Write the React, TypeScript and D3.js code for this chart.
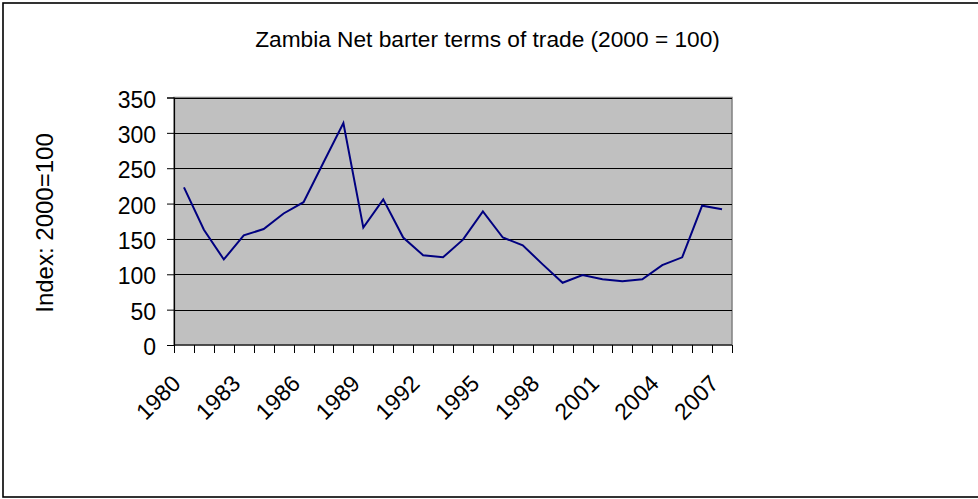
import React, { useEffect, useRef } from 'react';
import * as d3 from 'd3';

// Zambia net barter terms of trade, index 2000 = 100
const years = [
  1980, 1981, 1982, 1983, 1984, 1985, 1986, 1987, 1988, 1989,
  1990, 1991, 1992, 1993, 1994, 1995, 1996, 1997, 1998, 1999,
  2000, 2001, 2002, 2003, 2004, 2005, 2006, 2007,
];
const tot = [
  223, 163, 121, 155, 164, 186, 202, 258, 314, 166,
  206, 152, 127, 124, 149, 189, 152, 141, 114, 88,
  99, 93, 90, 93, 113, 124, 197, 192,
];
const yTicks = [0, 50, 100, 150, 200, 250, 300, 350];
const labelYears = [1980, 1983, 1986, 1989, 1992, 1995, 1998, 2001, 2004, 2007];

const W = 978;
const H = 499;
const FONT = '"Liberation Sans", Arial, sans-serif';

export default function App() {
  const ref = useRef<SVGSVGElement>(null);

  useEffect(() => {
    const svg = d3.select(ref.current);
    svg.selectAll('*').remove();

    const plot = { left: 174, right: 732, top: 97.5, bottom: 345 };

    const x = d3.scaleBand<number>()
      .domain(years)
      .range([plot.left, plot.right])
      .padding(0);
    const y = d3.scaleLinear()
      .domain([0, 350])
      .range([plot.bottom, plot.top]);

    // outer frame
    svg.append('rect')
      .attr('x', 3).attr('y', 3)
      .attr('width', 985).attr('height', 494)
      .attr('fill', '#fff')
      .attr('stroke', '#000')
      .attr('stroke-width', 1.6);

    // title
    svg.append('text')
      .attr('x', 487.5).attr('y', 46.5)
      .attr('text-anchor', 'middle')
      .style('font-family', FONT)
      .style('font-size', '22.7px')
      .text('Zambia Net barter terms of trade (2000 = 100)');

    // plot background
    svg.append('rect')
      .attr('x', plot.left).attr('y', plot.top)
      .attr('width', plot.right - plot.left)
      .attr('height', plot.bottom - plot.top)
      .attr('fill', '#c0c0c0')
      .attr('stroke', '#808080')
      .attr('stroke-width', 1.5);

    // gridlines
    svg.append('g')
      .selectAll('line')
      .data(yTicks.filter(d => d > 0))
      .enter().append('line')
      .attr('x1', plot.left).attr('x2', plot.right)
      .attr('y1', d => Math.round(y(d)) + 0.5)
      .attr('y2', d => Math.round(y(d)) + 0.5)
      .attr('stroke', '#000')
      .attr('stroke-width', 1);

    // y axis
    const yAxis = svg.append('g')
      .attr('transform', `translate(${plot.left},0)`)
      .call(d3.axisLeft(y).tickValues(yTicks).tickSize(7).tickPadding(0).tickFormat(d3.format('d')));
    yAxis.select('.domain').attr('stroke', '#000').attr('stroke-width', 1.2);
    yAxis.selectAll('.tick line').attr('stroke', '#000');
    yAxis.selectAll('.tick text').remove();
    yAxis.selectAll('.tick')
      .append('text')
      .attr('x', -18)
      .attr('y', 9.5)
      .attr('text-anchor', 'end')
      .attr('fill', '#000')
      .style('font-family', FONT)
      .style('font-size', '23px')
      .text(d => String(d));

    // x axis line and ticks at category boundaries
    svg.append('line')
      .attr('x1', plot.left).attr('x2', plot.right)
      .attr('y1', plot.bottom).attr('y2', plot.bottom)
      .attr('stroke', '#000').attr('stroke-width', 1.2);
    const bounds = years.map(d => x(d) as number).concat([plot.right]);
    svg.append('g')
      .selectAll('line')
      .data(bounds)
      .enter().append('line')
      .attr('x1', d => Math.round(d) + 0.5).attr('x2', d => Math.round(d) + 0.5)
      .attr('y1', plot.bottom).attr('y2', plot.bottom + 8)
      .attr('stroke', '#000');

    // x labels, rotated
    svg.append('g')
      .selectAll('text')
      .data(labelYears)
      .enter().append('text')
      .attr('transform', d => `translate(${(x(d) as number) + x.bandwidth() / 2 - 2},385) rotate(-45)`)
      .attr('text-anchor', 'end')
      .style('font-family', FONT)
      .style('font-size', '23px')
      .text(d => String(d));

    // y axis title
    svg.append('text')
      .attr('transform', `translate(53,223) rotate(-90)`)
      .attr('text-anchor', 'middle')
      .style('font-family', FONT)
      .style('font-size', '24px')
      .text('Index: 2000=100');

    // series
    const line = d3.line<number>()
      .x((_, i) => (x(years[i]) as number) + x.bandwidth() / 2)
      .y(d => y(d));
    svg.append('path')
      .datum(tot)
      .attr('d', line)
      .attr('fill', 'none')
      .attr('stroke', '#000080')
      .attr('stroke-width', 2);
  }, []);

  return (
    <svg
      ref={ref}
      width={W}
      height={H}
      style={{ position: 'absolute', left: 0, top: 0, display: 'block' }}
    />
  );
}
